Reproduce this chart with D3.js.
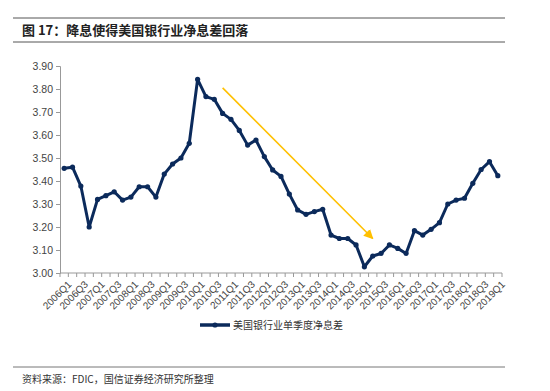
<!DOCTYPE html>
<html lang="zh">
<head>
<meta charset="utf-8">
<title>美国银行业净息差</title>
<script src="https://cdn.jsdelivr.net/npm/d3@7/dist/d3.min.js"></script>
<style>
  body { margin: 0; background: #fff; }
  text { font-family: "Liberation Sans", Arial, sans-serif; }
  .cjk { font-family: "Noto Sans CJK SC", sans-serif; }
</style>
</head>
<body>
<script>
// quarters 2006Q1 .. 2019Q1
var quarters = [];
for (var yr = 2006; yr <= 2019; yr++) {
  for (var q = 1; q <= 4; q++) {
    if (yr === 2019 && q > 1) break;
    quarters.push(yr + "Q" + q);
  }
}

// net interest margin, %
var nim = [
  3.455, 3.46, 3.378, 3.20, 3.32, 3.336, 3.353, 3.317, 3.33, 3.375, 3.375, 3.33,
  3.43, 3.474, 3.50, 3.564, 3.842, 3.767, 3.755, 3.694, 3.668, 3.62, 3.556, 3.578,
  3.506, 3.448, 3.42, 3.343, 3.274, 3.255, 3.267, 3.277, 3.165, 3.15, 3.15, 3.122,
  3.027, 3.074, 3.085, 3.122, 3.107, 3.085, 3.184, 3.165, 3.19, 3.219, 3.30, 3.317,
  3.325, 3.39, 3.45, 3.484, 3.423
];

var yTicks = [3.0, 3.1, 3.2, 3.3, 3.4, 3.5, 3.6, 3.7, 3.8, 3.9];

// trend arrow: [quarter, value] start and end
var arrowFrom = ["2010Q4", 3.805];
var arrowTo = ["2015Q2", 3.15];

var W = 550, H = 391;
var svg = d3.select("body").append("svg")
  .attr("width", W)
  .attr("height", H);

// header
svg.append("line").attr("x1", 13).attr("x2", 505).attr("y1", 18).attr("y2", 18)
  .attr("stroke", "#555").attr("stroke-width", 1);
svg.append("line").attr("x1", 13).attr("x2", 505).attr("y1", 42).attr("y2", 42)
  .attr("stroke", "#555").attr("stroke-width", 1);
svg.append("text").attr("class", "cjk")
  .attr("x", 22).attr("y", 35)
  .attr("font-size", 13).attr("font-weight", "bold").attr("fill", "#222")
  .text("图 17：降息使得美国银行业净息差回落");

var x = d3.scaleBand().domain(quarters).range([60, 502]);
var y = d3.scaleLinear().domain([3.0, 3.9]).range([273, 66]);

// y axis
var yAxis = svg.append("g")
  .attr("transform", "translate(60,0)")
  .call(d3.axisLeft(y).tickValues(yTicks).tickFormat(d3.format(".2f")).tickSizeOuter(0).tickSize(4));
yAxis.select(".domain").attr("stroke", "#999");
yAxis.selectAll(".tick line").attr("stroke", "#999");
yAxis.selectAll("text").attr("font-size", 10.5).attr("fill", "#444")
  .attr("font-family", "Liberation Sans, Arial, sans-serif");

// x axis
var xg = svg.append("g").attr("transform", "translate(0,273)");
xg.append("line").attr("x1", 60).attr("x2", 502).attr("stroke", "#999");
xg.selectAll("line.tk")
  .data(quarters.concat(["end"]))
  .enter().append("line")
  .attr("class", "tk")
  .attr("x1", function(d, i) { return i < quarters.length ? x(d) : x.range()[1]; })
  .attr("x2", function(d, i) { return i < quarters.length ? x(d) : x.range()[1]; })
  .attr("y1", 0).attr("y2", 4)
  .attr("stroke", "#999");
xg.selectAll("text")
  .data(quarters.filter(function(d, i) { return i % 2 === 0; }))
  .enter().append("text")
  .attr("transform", function(d) {
    return "translate(" + (x(d) + x.bandwidth() / 2 + 3) + ",7) rotate(-45)";
  })
  .attr("text-anchor", "end")
  .attr("dy", "0.7em")
  .attr("font-size", 10)
  .attr("fill", "#444")
  .text(function(d) { return d; });

// trend arrow
var ax1 = x(arrowFrom[0]) + x.bandwidth() / 2, ay1 = y(arrowFrom[1]);
var ax2 = x(arrowTo[0]) + x.bandwidth() / 2, ay2 = y(arrowTo[1]);
var defs = svg.append("defs");
defs.append("marker")
  .attr("id", "arr")
  .attr("viewBox", "0 0 10 10")
  .attr("refX", 9).attr("refY", 5)
  .attr("markerWidth", 6).attr("markerHeight", 6)
  .attr("markerUnits", "strokeWidth")
  .attr("orient", "auto")
  .append("path").attr("d", "M0,0L10,5L0,10z").attr("fill", "#FFC000");
svg.append("line")
  .attr("x1", ax1).attr("y1", ay1).attr("x2", ax2).attr("y2", ay2)
  .attr("stroke", "#FFC000").attr("stroke-width", 1.6)
  .attr("marker-end", "url(#arr)");

// series
var pts = quarters.map(function(d, i) { return [x(d) + x.bandwidth() / 2, y(nim[i])]; });
svg.append("path")
  .attr("d", d3.line()(pts))
  .attr("fill", "none")
  .attr("stroke", "#0B2A5B")
  .attr("stroke-width", 3)
  .attr("stroke-linejoin", "round");
svg.selectAll("circle.pt")
  .data(pts)
  .enter().append("circle")
  .attr("class", "pt")
  .attr("cx", function(d) { return d[0]; })
  .attr("cy", function(d) { return d[1]; })
  .attr("r", 2.6)
  .attr("fill", "#0B2A5B");

// legend
var lg = svg.append("g").attr("transform", "translate(200,325)");
lg.append("line").attr("x1", 0).attr("x2", 30).attr("stroke", "#0B2A5B").attr("stroke-width", 3.5);
lg.append("circle").attr("cx", 15).attr("r", 2.6).attr("fill", "#0B2A5B");
lg.append("text").attr("class", "cjk")
  .attr("x", 33).attr("y", 3.5)
  .attr("font-size", 10).attr("fill", "#333")
  .text("美国银行业单季度净息差");

// footer
svg.append("line").attr("x1", 13).attr("x2", 505).attr("y1", 367).attr("y2", 367)
  .attr("stroke", "#777").attr("stroke-width", 1);
svg.append("text").attr("class", "cjk")
  .attr("x", 22).attr("y", 383)
  .attr("font-size", 10).attr("fill", "#333")
  .text("资料来源：FDIC，国信证券经济研究所整理");
</script>
</body>
</html>
